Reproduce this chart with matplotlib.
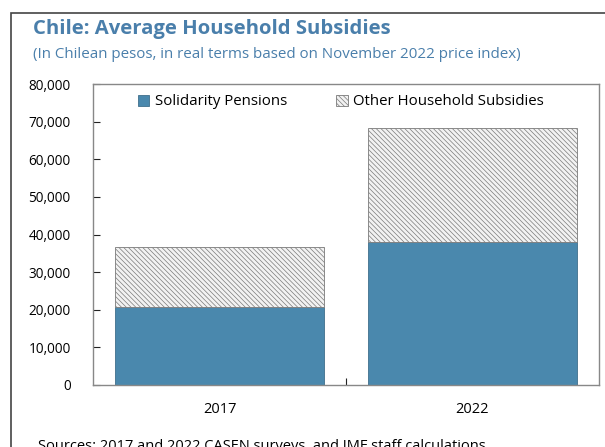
import matplotlib.pyplot as plt
from matplotlib.patches import Rectangle
from matplotlib.ticker import FuncFormatter

plt.rcParams['font.family'] = ['Open Sans', 'DejaVu Sans']
plt.rcParams['hatch.color'] = '#7a7a7a'
plt.rcParams['hatch.linewidth'] = 0.5

# data
years = ['2017', '2022']
solidarity = [20800, 37900]
other = [15900, 30400]

blue = '#4a88ad'
title_blue = '#4a7fab'

fig = plt.figure(figsize=(6.05, 4.47), dpi=100)
ax = fig.add_axes([93/605, 1 - 385/447, 506/605, 301/447])

x = range(len(years))
ax.bar(x, solidarity, width=0.83, color=blue, edgecolor='#3f6f8c', linewidth=0.6,
       label='Solidarity Pensions')
ax.bar(x, other, width=0.83, bottom=solidarity, color='#f2f2f2', edgecolor='#7a7a7a',
       hatch='\\\\\\\\\\\\\\', linewidth=0.6, label='Other Household Subsidies')

ax.set_xlim(-0.5, 1.5)
ax.set_ylim(0, 80000)
ax.set_yticks(range(0, 80001, 10000))
ax.yaxis.set_major_formatter(FuncFormatter(lambda v, p: f'{int(v):,}'))
ax.set_xticks([0.5])
ax.set_xticklabels([''])
ax.tick_params(axis='x', direction='in', length=5, width=0.8, color='#222222')
ax.tick_params(axis='y', direction='in', length=5, width=0.8, color='#222222', labelsize=9.8, pad=16)
for i, yr in enumerate(years):
    ax.text(i, -0.083, yr, transform=ax.get_xaxis_transform(), ha='center', va='center', fontsize=10.5)
for s in ax.spines.values():
    s.set_color('#888888')
    s.set_linewidth(1.0)

ax.legend(loc='upper center', bbox_to_anchor=(0.49, 1.01), ncol=2, frameon=False,
          fontsize=10.8, handlelength=0.75, handleheight=0.75, columnspacing=3.3,
          handletextpad=0.35)

fig.text(33/605, 1 - 29/447, 'Chile: Average Household Subsidies', fontsize=14.6,
         fontweight='bold', color=title_blue, va='center')
fig.text(33/605, 1 - 55/447, '(In Chilean pesos, in real terms based on November 2022 price index)',
         fontsize=10.9, color=title_blue, va='center')
fig.text(38/605, 1 - 446/447, 'Sources: 2017 and 2022 CASEN surveys, and IMF staff calculations',
         fontsize=10.5, va='center')

fig.add_artist(Rectangle((11/605, -0.1), 1.0, 1 - 13/447 + 0.1, transform=fig.transFigure,
                         fill=False, edgecolor='#444444', linewidth=1.2))

fig.savefig('out.png', dpi=100)
